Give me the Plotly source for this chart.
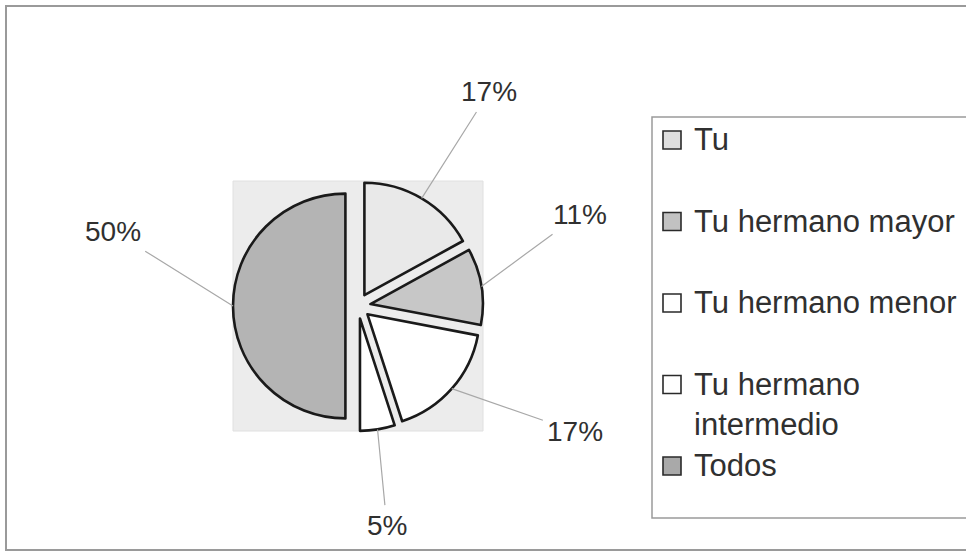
import math
import textwrap
import plotly.graph_objects as go

# ---- data ----
categories = ["Tu", "Tu hermano mayor", "Tu hermano menor", "Tu hermano intermedio", "Todos"]
percentages = [17, 11, 17, 5, 50]

# ---- style ----
slice_colors = ["#e9e9e9", "#c7c7c7", "#ffffff", "#ffffff", "#b4b4b4"]
legend_colors = ["#dedede", "#c2c2c2", "#ffffff", "#ffffff", "#a9a9a9"]
label_nudge_deg = [0.9, -13.5, -11.4, 1.5, 17.0]
label_dist_px = [251, 240, 251, 221, 256]
W, H = 966, 553
PULL = 0.112
FONT = "Liberation Sans, Arial, sans-serif"
TXT = "#303030"

# pie domain (pixels) -> paper
dom_x0, dom_x1 = 233, 483
dom_y0, dom_y1 = 181, 431
cx, cy = (dom_x0 + dom_x1) / 2, (dom_y0 + dom_y1) / 2
half = (dom_x1 - dom_x0) / 2
r = half / (1 + PULL)


def px2paper(x, y):
    return x / W, 1 - y / H


fig = go.Figure()
fig.add_trace(go.Pie(
    labels=categories,
    values=percentages,
    sort=False,
    direction="clockwise",
    rotation=0,
    pull=[PULL] * len(percentages),
    marker=dict(colors=slice_colors, line=dict(color="#1a1a1a", width=2.6)),
    textinfo="none",
    hoverinfo="label+percent",
    showlegend=False,
    domain=dict(x=[dom_x0 / W, dom_x1 / W], y=[1 - dom_y1 / H, 1 - dom_y0 / H]),
))

shapes = []
annotations = []

# plot-area background (grey square behind the pie)
shapes.append(dict(type="rect", xref="paper", yref="paper", layer="below",
                   x0=dom_x0 / W, x1=dom_x1 / W, y0=1 - dom_y1 / H, y1=1 - dom_y0 / H,
                   fillcolor="#ececec", line=dict(color="#e0e0e0", width=1)))
# outer chart frame
shapes.append(dict(type="rect", xref="paper", yref="paper", layer="below",
                   x0=6 / W, x1=1.01, y0=1 - 550 / H, y1=1 - 6 / H,
                   fillcolor="rgba(0,0,0,0)", line=dict(color="#9a9a9a", width=2)))

# data labels with leader lines
total = sum(percentages)
cum = 0
for i, v in enumerate(percentages):
    mid = (cum + v / 2) / total * 360
    cum += v
    t = math.radians(mid)
    ax_px = cx + r * (1 + PULL) * math.sin(t)
    ay_px = cy - r * (1 + PULL) * math.cos(t)
    la = math.radians(mid + label_nudge_deg[i])
    lx = cx + label_dist_px[i] * math.sin(la)
    ly = cy - label_dist_px[i] * math.cos(la)
    px, py = px2paper(ax_px, ay_px)
    annotations.append(dict(
        xref="paper", yref="paper", x=px, y=py,
        text=f"{v}%", showarrow=True, arrowhead=0, arrowwidth=1.2,
        arrowcolor="#a8a8a8", standoff=0, axref="pixel", ayref="pixel",
        ax=lx - ax_px, ay=ly - ay_px,
        font=dict(family=FONT, size=28, color=TXT),
        borderpad=4,
    ))

# custom legend
leg_x0, leg_y0, leg_y1 = 652, 117, 518
shapes.append(dict(type="rect", xref="paper", yref="paper",
                   x0=leg_x0 / W, x1=1.01, y0=1 - leg_y1 / H, y1=1 - leg_y0 / H,
                   fillcolor="#ffffff", line=dict(color="#9a9a9a", width=1.5)))
row0, row_step, sq = 140, 81.5, 18
for i, name in enumerate(categories):
    yc = row0 + i * row_step
    shapes.append(dict(type="rect", xref="paper", yref="paper",
                       x0=663 / W, x1=(663 + sq) / W,
                       y0=1 - (yc + sq / 2) / H, y1=1 - (yc - sq / 2) / H,
                       fillcolor=legend_colors[i], line=dict(color="#2a2a2a", width=1.6)))
    txt = "<br>".join(textwrap.wrap(name, 16))
    annotations.append(dict(
        xref="paper", yref="paper", x=692 / W, y=1 - (yc - 20) / H,
        xanchor="left", yanchor="top", align="left", showarrow=False,
        text=txt, font=dict(family=FONT, size=31, color=TXT),
    ))

fig.update_layout(
    width=W, height=H, autosize=False,
    margin=dict(l=0, r=0, t=0, b=0),
    paper_bgcolor="#ffffff", plot_bgcolor="#ffffff",
    shapes=shapes, annotations=annotations,
    showlegend=False,
)

fig.write_html("out.html", config={"displayModeBar": False},
               post_script="document.body.style.margin='0';")
